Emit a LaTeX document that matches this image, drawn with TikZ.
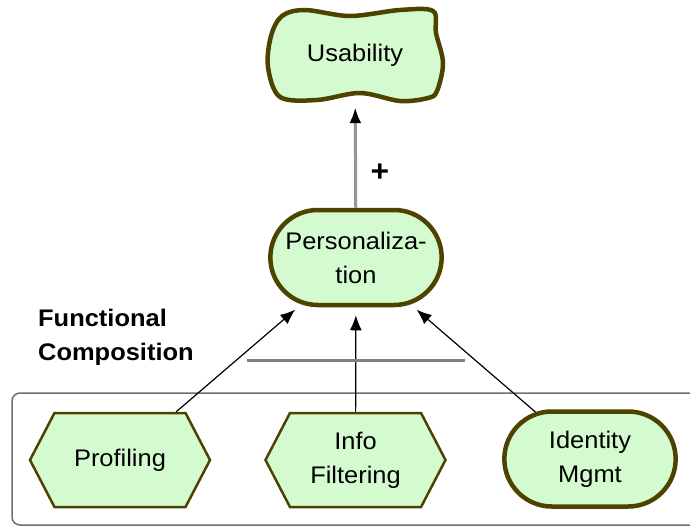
\documentclass[tikz,border=0pt]{standalone}
\usepackage{fontspec}
\setmainfont{Liberation Sans}[FakeStretch=1.06]
\usetikzlibrary{positioning,arrows.meta,shapes.misc,shapes.symbols}
\definecolor{goalfill}{RGB}{212,250,208}
\definecolor{goalline}{RGB}{77,66,0}
\tikzset{label font/.style={font=\fontsize{24}{34}\selectfont}}
\tikzset{softgoal/.style={draw=goalline,fill=goalfill,line width=4.5pt,line join=round}}
\tikzset{goal/.style={rounded rectangle,draw=goalline,fill=goalfill,line width=4.5pt,minimum width=178pt,minimum height=95pt,align=center,label font}}
\tikzset{task/.style={signal,signal to=west and east,signal pointer angle=125,draw=goalline,fill=goalfill,line width=2.5pt,minimum width=180pt,minimum height=94pt,align=center,label font}}
\tikzset{link/.style={-{Latex[length=15pt,width=12pt]},line width=1.2pt,shorten >=8pt}}
\tikzset{contrib/.style={-{Latex[length=16pt,width=12pt,color=black]},draw={rgb,255:red,150;green,150;blue,150},line width=3pt,shorten >=6pt}}

\begin{document}
\begin{tikzpicture}[x=1pt,y=-1pt]
	\useasboundingbox (0,0) rectangle (690,527);
	\clip (0,0) rectangle (690,527);

	% boundary of the functional group
	\draw[rounded corners=8pt,draw={rgb,255:red,110;green,110;blue,110},line width=1.5pt] (12,393) rectangle (720,525);

	% softgoal
	\draw[softgoal] plot[smooth cycle,tension=0.55] coordinates {
		(282,16) (305,10) (350,16) (400,10) (433,11) (436,33) (443,63) (437,91)
		(428,98) (400,101) (360,93) (317,100) (280,97) (268,67) (271,36)};
	\node[minimum width=176pt,minimum height=92pt,label font] (usab) at (355,55) {Usability};

	% goals and tasks
	\node[goal] (pers) at (356,257.5) {Personaliza-\\tion};
	\node[task] (prof) at (120,460) {Profiling};
	\node[task] (info) at (355.5,460) {Info\\Filtering};
	\node[goal] (ident) at (590,459) {Identity\\Mgmt};

	\node[anchor=north west,inner sep=0pt,align=left,font=\fontsize{24}{34}\selectfont\bfseries] (fcomp) at (38,308.5) {Functional\\Composition};

	% links
	\draw[contrib] (pers) -- (usab);
	\node[font=\fontsize{30}{30}\selectfont\bfseries] (plus) at (380,173) {+};
	\draw[link] (prof) -- (pers);
	\draw[link] (info) -- (pers);
	\draw[link] (ident) -- (pers);

	% decomposition bar
	\coordinate (barl) at (247,360);
	\coordinate (barr) at (465,360);
	\draw[draw={rgb,255:red,128;green,128;blue,128},line width=3pt] (barl) -- (barr);
\end{tikzpicture}
\end{document}
